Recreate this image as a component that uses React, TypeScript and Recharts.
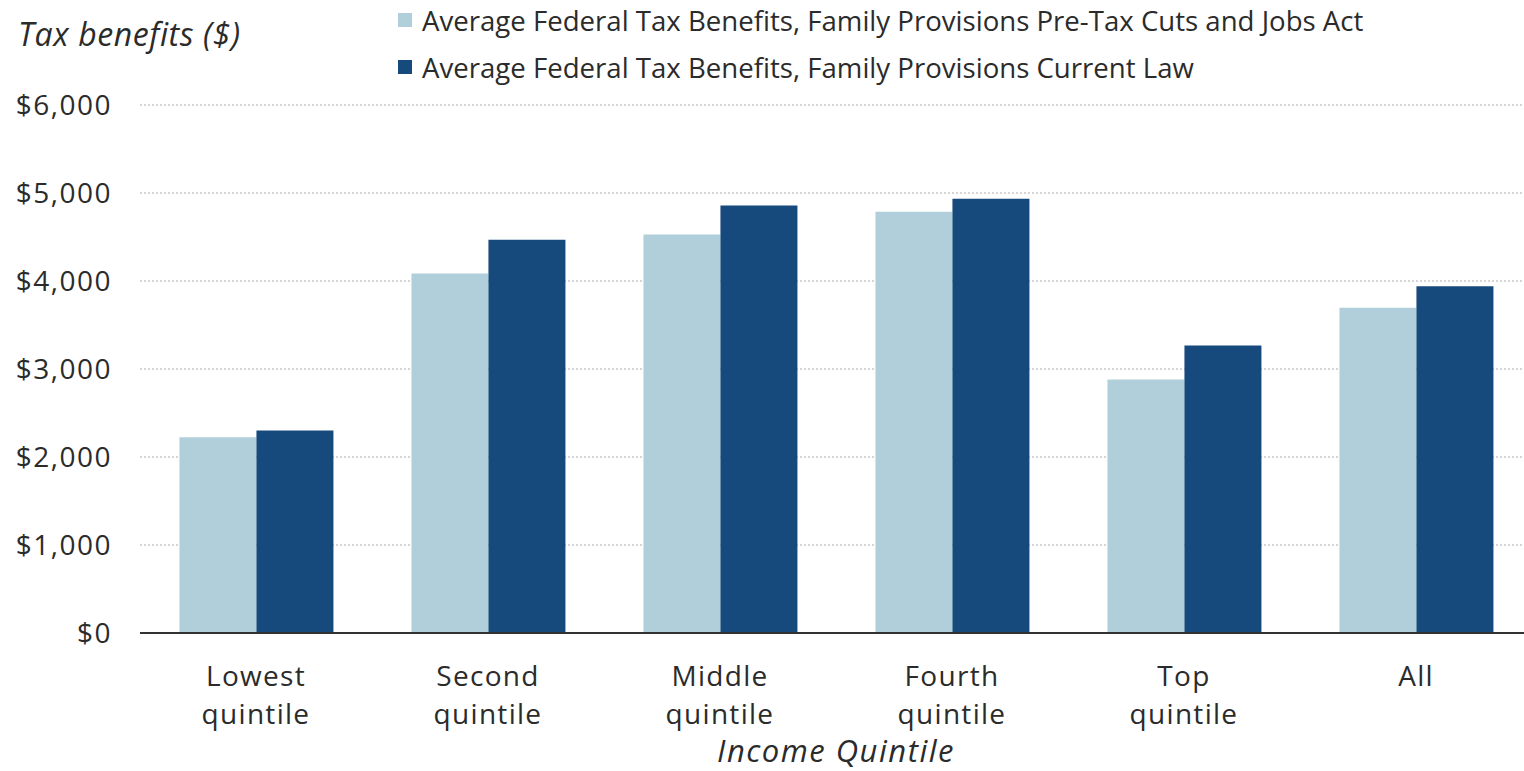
import React from 'react';
import { BarChart, Bar, XAxis, YAxis, CartesianGrid, Legend, Label } from 'recharts';

const categories = ['Lowest quintile', 'Second quintile', 'Middle quintile', 'Fourth quintile', 'Top quintile', 'All'];
const preTcja = [2225, 4085, 4528, 4786, 2880, 3695];
const currentLaw = [2300, 4470, 4858, 4934, 3267, 3940];
const yTicks = [0, 1000, 2000, 3000, 4000, 5000, 6000];
const seriesNames = [
  'Average Federal Tax Benefits, Family Provisions Pre-Tax Cuts and Jobs Act',
  'Average Federal Tax Benefits, Family Provisions Current Law',
];
const colors = ['#B0CFDA', '#174A7C'];

const data = categories.map((c, i) => ({ name: c, pre: preTcja[i], cur: currentLaw[i] }));

const FONT = '"Open Sans", Lato, sans-serif';
const TEXT = '#2b2b2b';

const fmt = (v: number) => '$' + v.toLocaleString('en-US');

const XTick = (props: any) => {
  const { x, y, payload } = props;
  const words = String(payload.value).split(' ');
  return (
    <g transform={`translate(${x},${y})`}>
      {words.map((w: string, i: number) => (
        <text
          key={i}
          x={0}
          y={45 + i * 38}
          textAnchor="middle"
          fill={TEXT}
          fontSize={28}
          letterSpacing={1.3}
          fontFamily={FONT}
        >
          {w}
        </text>
      ))}
    </g>
  );
};

const LegendContent = (props: any) => {
  const payload = [...(props.payload || [])].sort(
    (a: any, b: any) => seriesNames.indexOf(a.value) - seriesNames.indexOf(b.value)
  );
  return (
    <div style={{ fontFamily: FONT }}>
      {payload.map((p: any, i: number) => (
        <div key={i} style={{ display: 'flex', alignItems: 'center', height: 38, marginBottom: 9 }}>
          <span style={{ display: 'inline-block', width: 14, height: 14, background: p.color, marginRight: 10 }} />
          <span style={{ fontSize: 27.6, lineHeight: '38px', color: TEXT, whiteSpace: 'nowrap' }}>{p.value}</span>
        </div>
      ))}
    </div>
  );
};

export default function App() {
  return (
    <div
      style={{
        position: 'absolute',
        left: 0,
        top: 0,
        width: 1524,
        height: 771,
        overflow: 'hidden',
        background: '#fff',
      }}
    >
      <div
        style={{
          position: 'absolute',
          left: 18,
          top: 15,
          fontFamily: FONT,
          fontStyle: 'italic',
          fontSize: 32,
          letterSpacing: 0.6,
          lineHeight: '38px',
          color: TEXT,
          whiteSpace: 'nowrap',
        }}
      >
        Tax benefits ($)
      </div>
      <div style={{ position: 'absolute', left: 8, top: 8 }}>
        <BarChart
          width={1540}
          height={763}
          data={data}
          margin={{ top: 97, right: 16, bottom: 0, left: 0 }}
          barCategoryGap="17%"
          barGap={0}
        >
          <CartesianGrid vertical={false} stroke="#c8c8c8" strokeDasharray="2 2" strokeWidth={1.5} />
          <XAxis
            dataKey="name"
            interval={0}
            tick={<XTick />}
            tickLine={false}
            axisLine={{ stroke: '#333', strokeWidth: 2 }}
            height={138}
          >
            <Label
              value="Income Quintile"
              position="insideBottom"
              offset={9}
              style={{ fontFamily: FONT, fontStyle: 'italic', fontSize: 31, letterSpacing: 1.5, fill: TEXT }}
            />
          </XAxis>
          <YAxis
            domain={[0, 6000]}
            ticks={yTicks}
            tickFormatter={fmt}
            width={132}
            tickLine={false}
            axisLine={false}
            tickSize={0}
            tickMargin={28}
            tick={{ fontFamily: FONT, fontSize: 28, letterSpacing: 1.5, fill: TEXT }}
          />
          <Legend
            layout="vertical"
            align="center"
            verticalAlign="middle"
            wrapperStyle={{ position: 'absolute', left: 390, top: -7, width: 1120 }}
            content={<LegendContent />}
          />
          <Bar dataKey="pre" name={seriesNames[0]} fill={colors[0]} isAnimationActive={false} />
          <Bar dataKey="cur" name={seriesNames[1]} fill={colors[1]} isAnimationActive={false} />
        </BarChart>
      </div>
    </div>
  );
}
